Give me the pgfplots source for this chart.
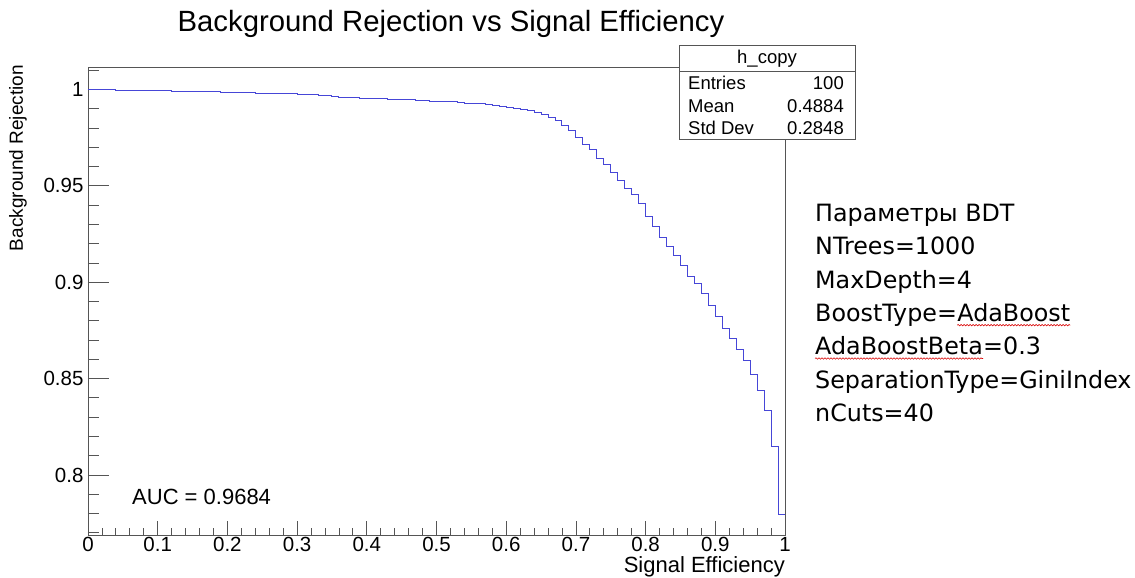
\documentclass[border=0pt]{standalone}
\usepackage{fontspec}
\setmainfont{Liberation Sans}
\newfontfamily\notefont{DejaVu Sans}
\usepackage{pgfplots}
\usepackage{pgfplotstable}
\pgfplotsset{compat=1.18}
\usetikzlibrary{decorations.pathmorphing}
\definecolor{rootblue}{RGB}{70,70,215}
\definecolor{framegrey}{RGB}{85,85,85}

% ROC histogram (100 bins), value held from the bin's low edge
\pgfplotstableread{
eff rej
0.00 0.99990
0.04 0.99927
0.12 0.99876
0.19 0.99824
0.24 0.99793
0.30 0.99757
0.33 0.99705
0.35 0.99653
0.36 0.99586
0.39 0.99534
0.43 0.99482
0.47 0.99409
0.49 0.99378
0.53 0.99306
0.54 0.99275
0.57 0.99213
0.58 0.99187
0.59 0.99135
0.60 0.99083
0.61 0.99031
0.62 0.98980
0.63 0.98902
0.64 0.98824
0.65 0.98721
0.66 0.98565
0.67 0.98384
0.68 0.98151
0.69 0.97892
0.70 0.97514
0.71 0.97166
0.72 0.96892
0.73 0.96426
0.74 0.96079
0.75 0.95680
0.76 0.95265
0.77 0.94872
0.78 0.94525
0.79 0.94095
0.80 0.93421
0.81 0.92903
0.82 0.92323
0.83 0.91847
0.84 0.91365
0.85 0.90862
0.86 0.90293
0.87 0.89951
0.88 0.89397
0.89 0.88801
0.90 0.88231
0.91 0.87620
0.92 0.87102
0.93 0.86496
0.94 0.85926
0.95 0.85201
0.96 0.84372
0.97 0.83336
0.98 0.81471
0.99 0.77949
1.00 0.77949
}\roc

\pgfplotsset{rootframe/.style={at={(0,0)}, anchor=south west, scale only axis,
  width=697pt, height=468pt, xmin=0, xmax=1, ymin=0.7689, ymax=1.0116,
  tick pos=left, tick align=inside,
  tick style={draw=framegrey, line width=0.8pt},
  /pgf/number format/assume math mode=true,
  tick label style={font=\fontsize{20.5}{24}\selectfont}}}

\begin{document}
\begin{tikzpicture}[x=1pt,y=1pt]
\useasboundingbox (-88,-43) rectangle (1047,535);

% frame, curve and y ticks
\begin{axis}[rootframe,
  axis line style={draw=framegrey, line width=0.8pt},
  xtick=\empty,
  ytick={0.8,0.85,0.9,0.95,1}, yticklabels={0.8,0.85,0.9,0.95,1},
  minor ytick={0.77,0.78,0.79,0.81,0.82,0.83,0.84,0.86,0.87,0.88,0.89,0.91,0.92,0.93,0.94,0.96,0.97,0.98,0.99,1.01},
  major tick length=21pt, minor tick length=11pt,
  yticklabel style={xshift=-1pt}]
\addplot[const plot, color=rootblue, line width=0.95pt] table[x=eff, y=rej] {\roc};
\end{axis}

% x ticks (shorter, as in ROOT)
\begin{axis}[rootframe,
  axis line style={draw=none},
  ytick=\empty,
  xtick={0,0.1,0.2,0.3,0.4,0.5,0.6,0.7,0.8,0.9,1},
  xticklabels={0,0.1,0.2,0.3,0.4,0.5,0.6,0.7,0.8,0.9,1},
  minor xtick={0.02,0.04,0.06,0.08,0.12,0.14,0.16,0.18,0.22,0.24,0.26,0.28,0.32,0.34,0.36,0.38,0.42,0.44,0.46,0.48,0.52,0.54,0.56,0.58,0.62,0.64,0.66,0.68,0.72,0.74,0.76,0.78,0.82,0.84,0.86,0.88,0.92,0.94,0.96,0.98},
  major tick length=14pt, minor tick length=7pt,
  xticklabel style={yshift=1pt}]
\end{axis}

% titles
\node[anchor=base, inner sep=0, font=\fontsize{29.3}{34}\selectfont] at (363,503) {Background Rejection vs Signal Efficiency};
\node[rotate=90, anchor=east, inner sep=0, font=\fontsize{19}{22}\selectfont] at (-70,470) {Background Rejection};
\node[anchor=base east, inner sep=0, font=\fontsize{22}{26}\selectfont] at (697,-38) {Signal Efficiency};
\node[anchor=base west, inner sep=0, font=\fontsize{22}{26}\selectfont] at (44,30) {AUC = 0.9684};

% stats box
\draw[framegrey, fill=white, line width=0.8pt] (591.3,395.7) rectangle (767,490);
\draw[framegrey, line width=0.8pt] (591.3,463.3) -- (767,463.3);
\begin{scope}[every node/.style={inner sep=0, font=\fontsize{18.5}{22}\selectfont}]
\node[anchor=base] at (679,471) {h\_copy};
\node[anchor=base west] at (600,445) {Entries};
\node[anchor=base east] at (756,445) {100};
\node[anchor=base west] at (600,422.7) {Mean};
\node[anchor=base east] at (756,422.7) {0.4884};
\node[anchor=base west] at (600,400) {Std Dev};
\node[anchor=base east] at (756,400) {0.2848};
\end{scope}

% BDT parameters
\begin{scope}[every node/.style={inner sep=0, anchor=base west, font=\notefont\fontsize{23.8}{28}\selectfont}]
\node at (727,313.3) {Параметры BDT};
\node at (727,280) {NTrees=1000};
\node at (727,246.7) {MaxDepth=4};
\node (bt) at (727,213.3) {BoostType=};
\node (ab) at (bt.base east) {AdaBoost};
\node (abb) at (727,180) {AdaBoostBeta};
\node at (abb.base east) {=0.3};
\node at (727,146.7) {SeparationType=GiniIndex};
\node at (727,113.3) {nCuts=40};
\end{scope}
\draw[red!85!black, line width=0.6pt, decorate, decoration={snake, amplitude=0.7pt, segment length=3pt}]
  (ab.base west) ++(0,-3.5) -- ([yshift=-3.5pt]ab.base east);
\draw[red!85!black, line width=0.6pt, decorate, decoration={snake, amplitude=0.7pt, segment length=3pt}]
  (abb.base west) ++(0,-3.5) -- ([yshift=-3.5pt]abb.base east);
\end{tikzpicture}
\end{document}
